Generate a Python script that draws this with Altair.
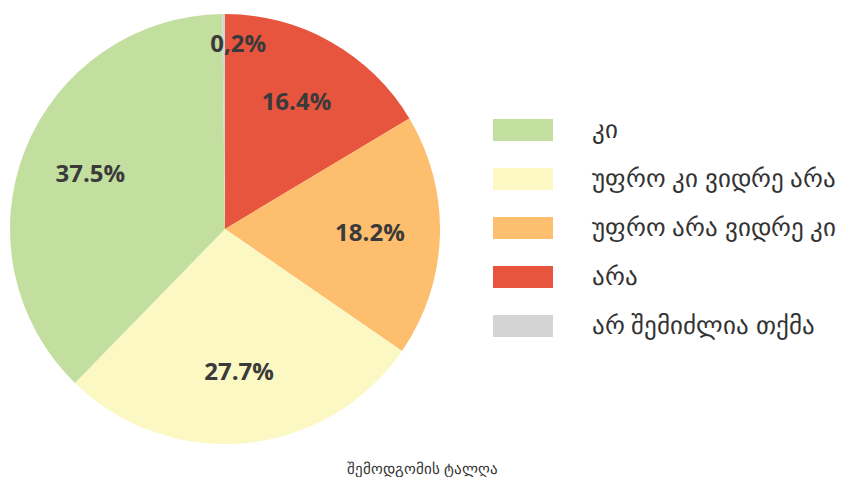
import altair as alt
import pandas as pd

categories = ["არა", "უფრო არა ვიდრე კი", "უფრო კი ვიდრე არა", "კი", "არ შემიძლია თქმა"]
values = [16.4, 18.2, 27.7, 37.5, 0.2]
labels = ["16.4%", "18.2%", "27.7%", "37.5%", "0,2%"]
legend_order = ["კი", "უფრო კი ვიდრე არა", "უფრო არა ვიდრე კი", "არა", "არ შემიძლია თქმა"]
colors = {"კი": "#c2df9f", "უფრო კი ვიდრე არა": "#fbf8c4", "უფრო არა ვიდრე კი": "#fdbe6e",
          "არა": "#e8553f", "არ შემიძლია თქმა": "#d4d4d4"}
title_text = "შემოდგომის ტალღა"

df = pd.DataFrame({"cat": categories, "value": values, "label": labels,
                   "order": list(range(len(categories)))})

color_scale = alt.Scale(domain=legend_order, range=[colors[c] for c in legend_order])

base = alt.Chart(df).encode(
    theta=alt.Theta("value:Q", stack=True),
    order=alt.Order("order:Q"),
)

arcs = base.mark_arc(outerRadius=215, stroke=None).encode(
    color=alt.Color("cat:N", scale=color_scale, sort=legend_order,
                    legend=alt.Legend(title=None, orient="none", legendX=485, legendY=111,
                                      symbolType="M-1,-0.37L1,-0.37L1,0.37L-1,0.37Z",
                                      symbolSize=3600, symbolStrokeWidth=0,
                                      symbolOpacity=1, clipHeight=22,
                                      labelFontSize=25, labelFont="Open Sans",
                                      labelColor="#333333", labelOffset=39,
                                      rowPadding=24, labelLimit=400, padding=0))
)

text_style = dict(font="Open Sans", fontSize=24, fontWeight="bold", color="#3a3a3a")

texts_big = base.transform_filter("datum.value >= 1").mark_text(
    radius=145, **text_style
).encode(text="label:N")

texts_small = base.transform_filter("datum.value < 1").mark_text(
    radius=184, dx=12, **text_style
).encode(text="label:N")

chart = alt.layer(arcs, texts_big, texts_small).properties(
    width=434, height=442, padding=0,
    title=alt.TitleParams(title_text, orient="bottom", fontSize=15, font="Open Sans",
                          fontWeight="normal", color="#333333", offset=12,
                          frame="bounds", anchor="middle"),
).configure_view(stroke=None)

chart.save("out.html", embed_options={"renderer": "svg", "actions": False})
